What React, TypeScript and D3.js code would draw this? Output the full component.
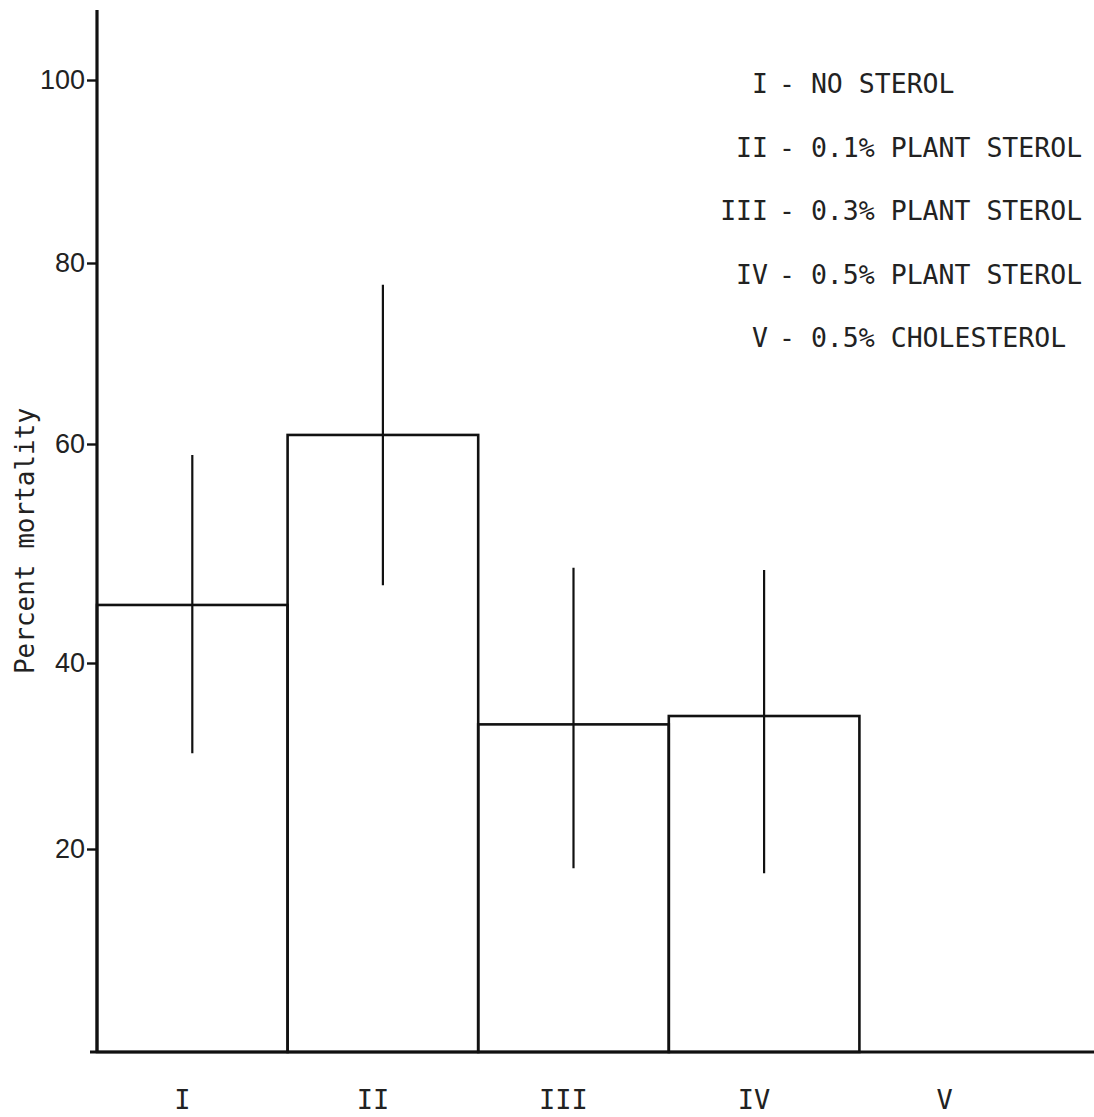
import React, { useEffect, useRef } from 'react';
import * as d3 from 'd3';

const groups = ['I', 'II', 'III', 'IV', 'V'];
const mortality = [45.3, 61, 33.4, 34.3, 0];
const errLow = [30.3, 47.1, 18.1, 17.6, 0];
const errHigh = [59, 77.6, 48.7, 48.5, 0];
const yTicks = [20, 40, 60, 80, 100];
const legendKeys = ['I', 'II', 'III', 'IV', 'V'];
const legendText = ['- NO STEROL', '- 0.1% PLANT STEROL', '- 0.3% PLANT STEROL', '- 0.5% PLANT STEROL', '- 0.5% CHOLESTEROL'];

const W = 1094;
const H = 1117;
const mono = '"DejaVu Sans Mono", monospace';

function draw(el: SVGSVGElement) {
  const svg = d3.select(el);
  svg.selectAll('*').remove();

  // the original axis was drawn by hand, so the tick spacing is not even
  const y = d3.scaleLinear()
    .domain([0, 20, 40, 60, 80, 100])
    .range([1052, 849, 663, 444, 263, 80]);

  const x = d3.scaleBand()
    .domain(groups)
    .range([97, 1050])
    .padding(0);

  // bars
  svg.append('g')
    .selectAll('rect')
    .data(groups.map((g, i) => ({ g, v: mortality[i] })).filter(d => d.v > 0))
    .join('rect')
      .attr('x', d => x(d.g)!)
      .attr('y', d => y(d.v))
      .attr('width', x.bandwidth())
      .attr('height', d => y(0) - y(d.v))
      .attr('fill', 'none')
      .attr('stroke', '#111')
      .attr('stroke-width', 2.6);

  // error bars
  svg.append('g')
    .selectAll('line')
    .data(groups.map((g, i) => ({ g, lo: errLow[i], hi: errHigh[i] })).filter(d => d.hi > 0))
    .join('line')
      .attr('x1', d => x(d.g)! + x.bandwidth() / 2)
      .attr('x2', d => x(d.g)! + x.bandwidth() / 2)
      .attr('y1', d => y(d.lo))
      .attr('y2', d => y(d.hi))
      .attr('stroke', '#111')
      .attr('stroke-width', 2.2);

  // y axis
  const yAxis = svg.append('g')
    .attr('transform', 'translate(97,0)')
    .call(d3.axisLeft(y).tickValues(yTicks).tickSize(10).tickPadding(2));
  yAxis.select('.domain').remove();
  yAxis.selectAll('.tick line').attr('stroke', '#111').attr('stroke-width', 2.4);
  yAxis.selectAll('.tick text')
    .attr('font-family', '"Liberation Sans", sans-serif')
    .attr('font-size', 27)
    .attr('fill', '#222');

  svg.append('line')
    .attr('x1', 97).attr('x2', 97)
    .attr('y1', 10).attr('y2', y(0) + 1)
    .attr('stroke', '#111')
    .attr('stroke-width', 3.2);

  // x axis
  svg.append('line')
    .attr('x1', 90).attr('x2', W)
    .attr('y1', y(0)).attr('y2', y(0))
    .attr('stroke', '#111')
    .attr('stroke-width', 3.2);

  svg.append('g')
    .selectAll('text')
    .data(groups)
    .join('text')
      .attr('x', d => x(d)! + x.bandwidth() / 2 - 10)
      .attr('y', 1109)
      .attr('text-anchor', 'middle')
      .attr('font-family', mono)
      .attr('font-size', 27)
      .attr('fill', '#222')
      .text(d => d);

  svg.append('text')
    .attr('transform', 'translate(34,541) rotate(-90)')
    .attr('text-anchor', 'middle')
    .attr('font-family', mono)
    .attr('font-size', 26)
    .attr('fill', '#222')
    .text('Percent mortality');

  // legend
  const legend = svg.append('g')
    .attr('font-family', mono)
    .attr('font-size', 26.5)
    .attr('fill', '#222');

  const row = legend.selectAll('g')
    .data(legendKeys)
    .join('g')
      .attr('transform', (d, i) => `translate(0,${93 + i * 63.5})`);

  row.append('text')
    .attr('x', 768)
    .attr('text-anchor', 'end')
    .text(d => d);

  row.append('text')
    .attr('x', 779)
    .text((d, i) => legendText[i]);
}

function App() {
  const ref = useRef<SVGSVGElement>(null);

  useEffect(() => {
    if (ref.current) draw(ref.current);
  }, []);

  return (
    <svg
      ref={ref}
      width={W}
      height={H}
      style={{ position: 'absolute', left: 0, top: 0, background: '#fff' }}
    />
  );
}

export default App;
